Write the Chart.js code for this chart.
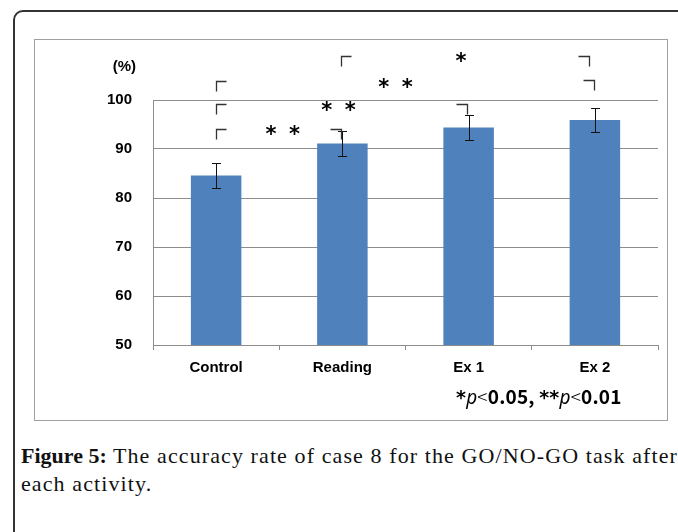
<!DOCTYPE html>
<html>
<head>
<meta charset="utf-8">
<script src="https://cdn.jsdelivr.net/npm/chart.js@4/dist/chart.umd.min.js"></script>
<style>
  body { margin: 0; width: 678px; height: 532px; overflow: hidden; background: #fff; position: relative; }
  #outer { position: absolute; left: 13px; top: 10px; width: 700px; height: 600px; border: 2px solid #333; border-radius: 10px; box-sizing: border-box; }
  #frame { position: absolute; left: 34px; top: 39px; width: 634px; height: 382px; border: 1.5px solid #a0a0a0; box-sizing: border-box; }
  #wrap { position: absolute; left: 35px; top: 40px; width: 632px; height: 380px; }
  #note { position: absolute; left: 456px; top: 382px; font: 600 19px "Noto Sans CJK JP", "Liberation Sans", sans-serif; color: #000; white-space: nowrap; letter-spacing: 0.2px; }
  #note i { font-family: "Noto Sans", sans-serif; font-weight: 400; }
  #note .lt { font-weight: 300; }
  #note .st { font-family: "DejaVu Sans"; font-weight: bold; font-size: 19px; }
  #caption { position: absolute; left: 21px; top: 442px; font: 22px "Liberation Serif", serif; color: #111; line-height: 28px; white-space: nowrap; letter-spacing: 1.1px; }
  #caption b { font-weight: bold; letter-spacing: 0; }
</style>
</head>
<body>
<div id="outer"></div>
<div id="frame"></div>
<div id="wrap"><canvas id="canvas" width="632" height="380"></canvas></div>
<div id="note"><span class="st">*</span><i>p</i><span class="lt">&lt;</span>0.05, <span class="st">**</span><i>p</i><span class="lt">&lt;</span>0.01</div>
<div id="caption"><b>Figure 5:</b> The accuracy rate of case 8 for the GO/NO-GO task after<br>each activity.</div>
<script>
var categories = ['Control', 'Reading', 'Ex 1', 'Ex 2'];
var accuracy = [84.6, 91.1, 94.4, 95.9];
var errors = [2.55, 2.55, 2.5, 2.5];
var yTicks = [50, 60, 70, 80, 90, 100];

// significance marks: [category position, value]
var openBrackets = [[0, 103.9], [0, 99.2], [0, 94.1], [0.99, 109.0]];
var closeBrackets = [[0.99, 94.0], [1.99, 99.1], [2.955, 109.0], [2.99, 104.1]];
var stars = [['**', 0.527, 93.9], ['**', 0.97, 98.8], ['**', 1.42, 103.5], ['*', 1.94, 108.7]];

var tickFont = { family: 'Liberation Sans', weight: 'bold', size: 15 };

function drawCentered(ctx, txt, x, y) {
	var m = ctx.measureText(txt);
	var base = y + (m.actualBoundingBoxAscent - m.actualBoundingBoxDescent) / 2;
	ctx.fillText(txt, x, base);
}

var extras = {
	id: 'extras',
	afterDatasetsDraw: function(chart) {
		var ctx = chart.ctx;
		var xs = chart.scales.x, ys = chart.scales.y;
		ctx.save();
		// error bars
		ctx.strokeStyle = '#111';
		ctx.lineWidth = 1;
		for (var i = 0; i < accuracy.length; i++) {
			var cx = Math.round(xs.getPixelForValue(i)) + 0.5;
			var top = Math.round(ys.getPixelForValue(accuracy[i] + errors[i])) + 0.5;
			var bot = Math.round(ys.getPixelForValue(accuracy[i] - errors[i])) + 0.5;
			ctx.beginPath();
			ctx.moveTo(cx, top); ctx.lineTo(cx, bot);
			ctx.moveTo(cx - 4.5, top); ctx.lineTo(cx + 4.5, top);
			ctx.moveTo(cx - 4.5, bot); ctx.lineTo(cx + 4.5, bot);
			ctx.stroke();
		}
		// brackets
		ctx.strokeStyle = '#333';
		ctx.lineWidth = 1.3;
		openBrackets.forEach(function(b) {
			var x = Math.round(xs.getPixelForValue(b[0])) + 0.5;
			var y = Math.round(ys.getPixelForValue(b[1])) + 0.5;
			ctx.beginPath();
			ctx.moveTo(x + 10, y); ctx.lineTo(x, y); ctx.lineTo(x, y + 10);
			ctx.stroke();
		});
		closeBrackets.forEach(function(b) {
			var x = Math.round(xs.getPixelForValue(b[0])) + 0.5;
			var y = Math.round(ys.getPixelForValue(b[1])) + 0.5;
			ctx.beginPath();
			ctx.moveTo(x - 11, y); ctx.lineTo(x, y); ctx.lineTo(x, y + 10);
			ctx.stroke();
		});
		// stars
		ctx.fillStyle = '#000';
		ctx.font = 'bold 21px "DejaVu Sans"';
		ctx.textAlign = 'center';
		ctx.textBaseline = 'alphabetic';
		stars.forEach(function(s) {
			var x = xs.getPixelForValue(s[1]);
			var y = ys.getPixelForValue(s[2]);
			if (s[0] == '**') {
				drawCentered(ctx, '*', x - 11.75, y);
				drawCentered(ctx, '*', x + 11.75, y);
			} else {
				drawCentered(ctx, '*', x, y);
			}
		});
		// unit label
		ctx.font = 'bold 15px "Liberation Sans"';
		ctx.textAlign = 'right';
		drawCentered(ctx, '(%)', chart.chartArea.left - 17, ys.getPixelForValue(106.8));
		ctx.restore();
	}
};

var config = {
	type: 'bar',
	data: {
		labels: categories,
		datasets: [{
			data: accuracy,
			backgroundColor: '#4f81bd',
			borderWidth: 0,
			barPercentage: 0.4,
			categoryPercentage: 1.0
		}]
	},
	options: {
		responsive: false,
		animation: false,
		layout: { padding: { top: 60, right: 9, left: 0, bottom: 0 } },
		plugins: { legend: { display: false }, tooltip: { enabled: false } },
		scales: {
			x: {
				afterFit: function(scale) { scale.height = 75; },
				grid: { display: true, drawOnChartArea: false, drawTicks: true, tickLength: 5, color: '#8c8c8c', offset: true },
				border: { color: '#8c8c8c' },
				ticks: { color: '#000', font: tickFont, padding: 9 }
			},
			y: {
				min: 50,
				max: 100,
				afterFit: function(scale) { scale.width = 118; },
				afterBuildTicks: function(scale) { scale.ticks = yTicks.map(function(v) { return { value: v }; }); },
				grid: { color: '#8c8c8c', drawTicks: false },
				border: { color: '#8c8c8c' },
				ticks: { color: '#000', font: tickFont, padding: 21 }
			}
		}
	},
	plugins: [extras]
};

var ctx = document.getElementById('canvas').getContext('2d');
window.myBar = new Chart(ctx, config);
</script>
</body>
</html>
